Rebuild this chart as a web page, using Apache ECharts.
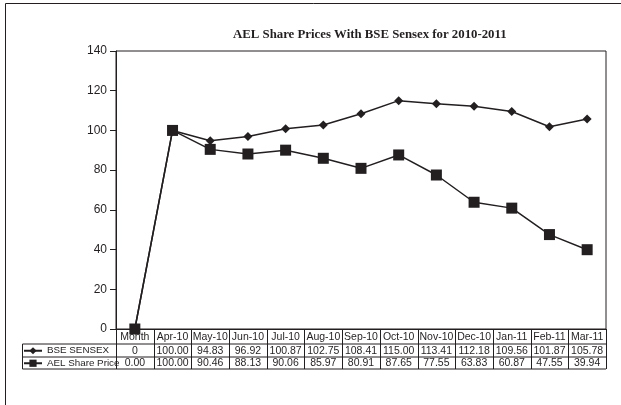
<!DOCTYPE html>
<html>
<head>
<meta charset="utf-8">
<script src="https://cdn.jsdelivr.net/npm/echarts@6/dist/echarts.min.js"></script>
<style>
	html, body { margin: 0; padding: 0; background: #fff; }
	#myShareChart { width: 621px; height: 405px; }
</style>
</head>
<body>
<div id="myShareChart"></div>
<script>
	// months along the x axis (first column is the table header)
	var months = ['Month', 'Apr-10', 'May-10', 'Jun-10', 'Jul-10', 'Aug-10', 'Sep-10', 'Oct-10', 'Nov-10', 'Dec-10', 'Jan-11', 'Feb-11', 'Mar-11'];
	var sensexValues = [0, 100.00, 94.83, 96.92, 100.87, 102.75, 108.41, 115.00, 113.41, 112.18, 109.56, 101.87, 105.78];
	var aelValues = [0.00, 100.00, 90.46, 88.13, 90.06, 85.97, 80.91, 87.65, 77.55, 63.83, 60.87, 47.55, 39.94];
	// text shown in the data table
	var sensexLabels = ['0', '100.00', '94.83', '96.92', '100.87', '102.75', '108.41', '115.00', '113.41', '112.18', '109.56', '101.87', '105.78'];
	var aelLabels = ['0.00', '100.00', '90.46', '88.13', '90.06', '85.97', '80.91', '87.65', '77.55', '63.83', '60.87', '47.55', '39.94'];
	var yTicks = [0, 20, 40, 60, 80, 100, 120, 140];

	var ink = '#231f20';
	var gridLeft = 116, gridRight = 15, gridTop = 51, gridBottom = 76;

	var option = {
		animation: false,
		title: {
			text: 'AEL Share Prices With BSE Sensex for 2010-2011',
			left: 233,
			top: 28,
			padding: 0,
			textStyle: {
				fontFamily: 'Liberation Serif',
				fontWeight: 'bold',
				fontSize: 12.8,
				color: ink
			}
		},
		legend: {
			orient: 'vertical',
			left: 23,
			top: 344.5,
			padding: 0,
			itemWidth: 18,
			itemHeight: 9,
			itemGap: 0,
			textStyle: {
				fontFamily: 'Liberation Sans',
				fontSize: 9.8,
				lineHeight: 12.5,
				color: ink
			},
			data: ['BSE SENSEX', 'AEL Share Price']
		},
		grid: {
			left: gridLeft,
			right: gridRight,
			top: gridTop,
			bottom: gridBottom,
			show: true,
			borderColor: ink,
			borderWidth: 1
		},
		xAxis: {
			type: 'category',
			data: months,
			boundaryGap: true,
			axisLine: { lineStyle: { color: ink, width: 1 } },
			axisTick: { show: false },
			axisLabel: { show: false }
		},
		yAxis: {
			type: 'value',
			min: yTicks[0],
			max: yTicks[yTicks.length - 1],
			interval: 20,
			axisLine: { show: true, lineStyle: { color: ink, width: 1 } },
			axisTick: { show: true, length: 6, lineStyle: { color: ink } },
			axisLabel: {
				margin: 9,
				fontFamily: 'Liberation Sans',
				fontSize: 12,
				color: ink
			},
			splitLine: { show: false }
		},
		series: [{
			name: 'BSE SENSEX',
			type: 'line',
			data: sensexValues,
			symbol: 'diamond',
			symbolSize: 9,
			showAllSymbol: true,
			lineStyle: { color: ink, width: 1.5 },
			itemStyle: { color: ink, borderWidth: 0 }
		}, {
			name: 'AEL Share Price',
			type: 'line',
			data: aelValues,
			symbol: 'rect',
			symbolSize: 11,
			showAllSymbol: true,
			lineStyle: { color: ink, width: 1.5 },
			itemStyle: { color: ink, borderWidth: 0 }
		}]
	};

	var myChart = echarts.init(document.getElementById('myShareChart'));
	myChart.setOption(option);

	// data table under the plot, placed from the category axis
	function drawTable() {
		var axisY = myChart.convertToPixel({ yAxisIndex: 0 }, 0);
		var c0 = myChart.convertToPixel({ xAxisIndex: 0 }, 0);
		var c1 = myChart.convertToPixel({ xAxisIndex: 0 }, 1);
		var band = c1 - c0;
		var tableLeft = 22.5;
		var plotRight = 621 - gridRight;
		var headBottom = axisY + 15, row1Bottom = headBottom + 13, row2Bottom = row1Bottom + 12;
		var lineStyle = { stroke: ink, lineWidth: 1 };
		var els = [];
		function line(x1, y1, x2, y2) {
			els.push({ type: 'line', shape: { x1: x1, y1: y1, x2: x2, y2: y2 }, style: lineStyle, silent: true });
		}
		function label(txt, x, y) {
			els.push({
				type: 'text', x: x, y: y, silent: true,
				style: { text: txt, fill: ink, font: '10.5px "Liberation Sans"', textAlign: 'center', textVerticalAlign: 'middle' }
			});
		}
		// outer page frame
		els.push({ type: 'rect', shape: { x: 5.5, y: 3.5, width: 640, height: 420 }, style: { fill: 'none', stroke: ink, lineWidth: 1 }, silent: true });
		line(tableLeft, headBottom, plotRight, headBottom);
		line(tableLeft, row1Bottom, plotRight, row1Bottom);
		line(tableLeft, row2Bottom, plotRight, row2Bottom);
		line(tableLeft, headBottom, tableLeft, row2Bottom);
		for (var k = 0; k <= months.length; k++) {
			var bx = Math.round(c0 - band / 2 + k * band) + 0.5;
			line(bx, axisY, bx, row2Bottom);
		}
		for (var i = 0; i < months.length; i++) {
			var cx = myChart.convertToPixel({ xAxisIndex: 0 }, i);
			label(months[i], cx, (axisY + headBottom) / 2 + 1);
			label(sensexLabels[i], cx, (headBottom + row1Bottom) / 2 + 0.5);
			label(aelLabels[i], cx, (row1Bottom + row2Bottom) / 2 + 0.5);
		}
		myChart.setOption({ graphic: els });
	}
	drawTable();
</script>
</body>
</html>
